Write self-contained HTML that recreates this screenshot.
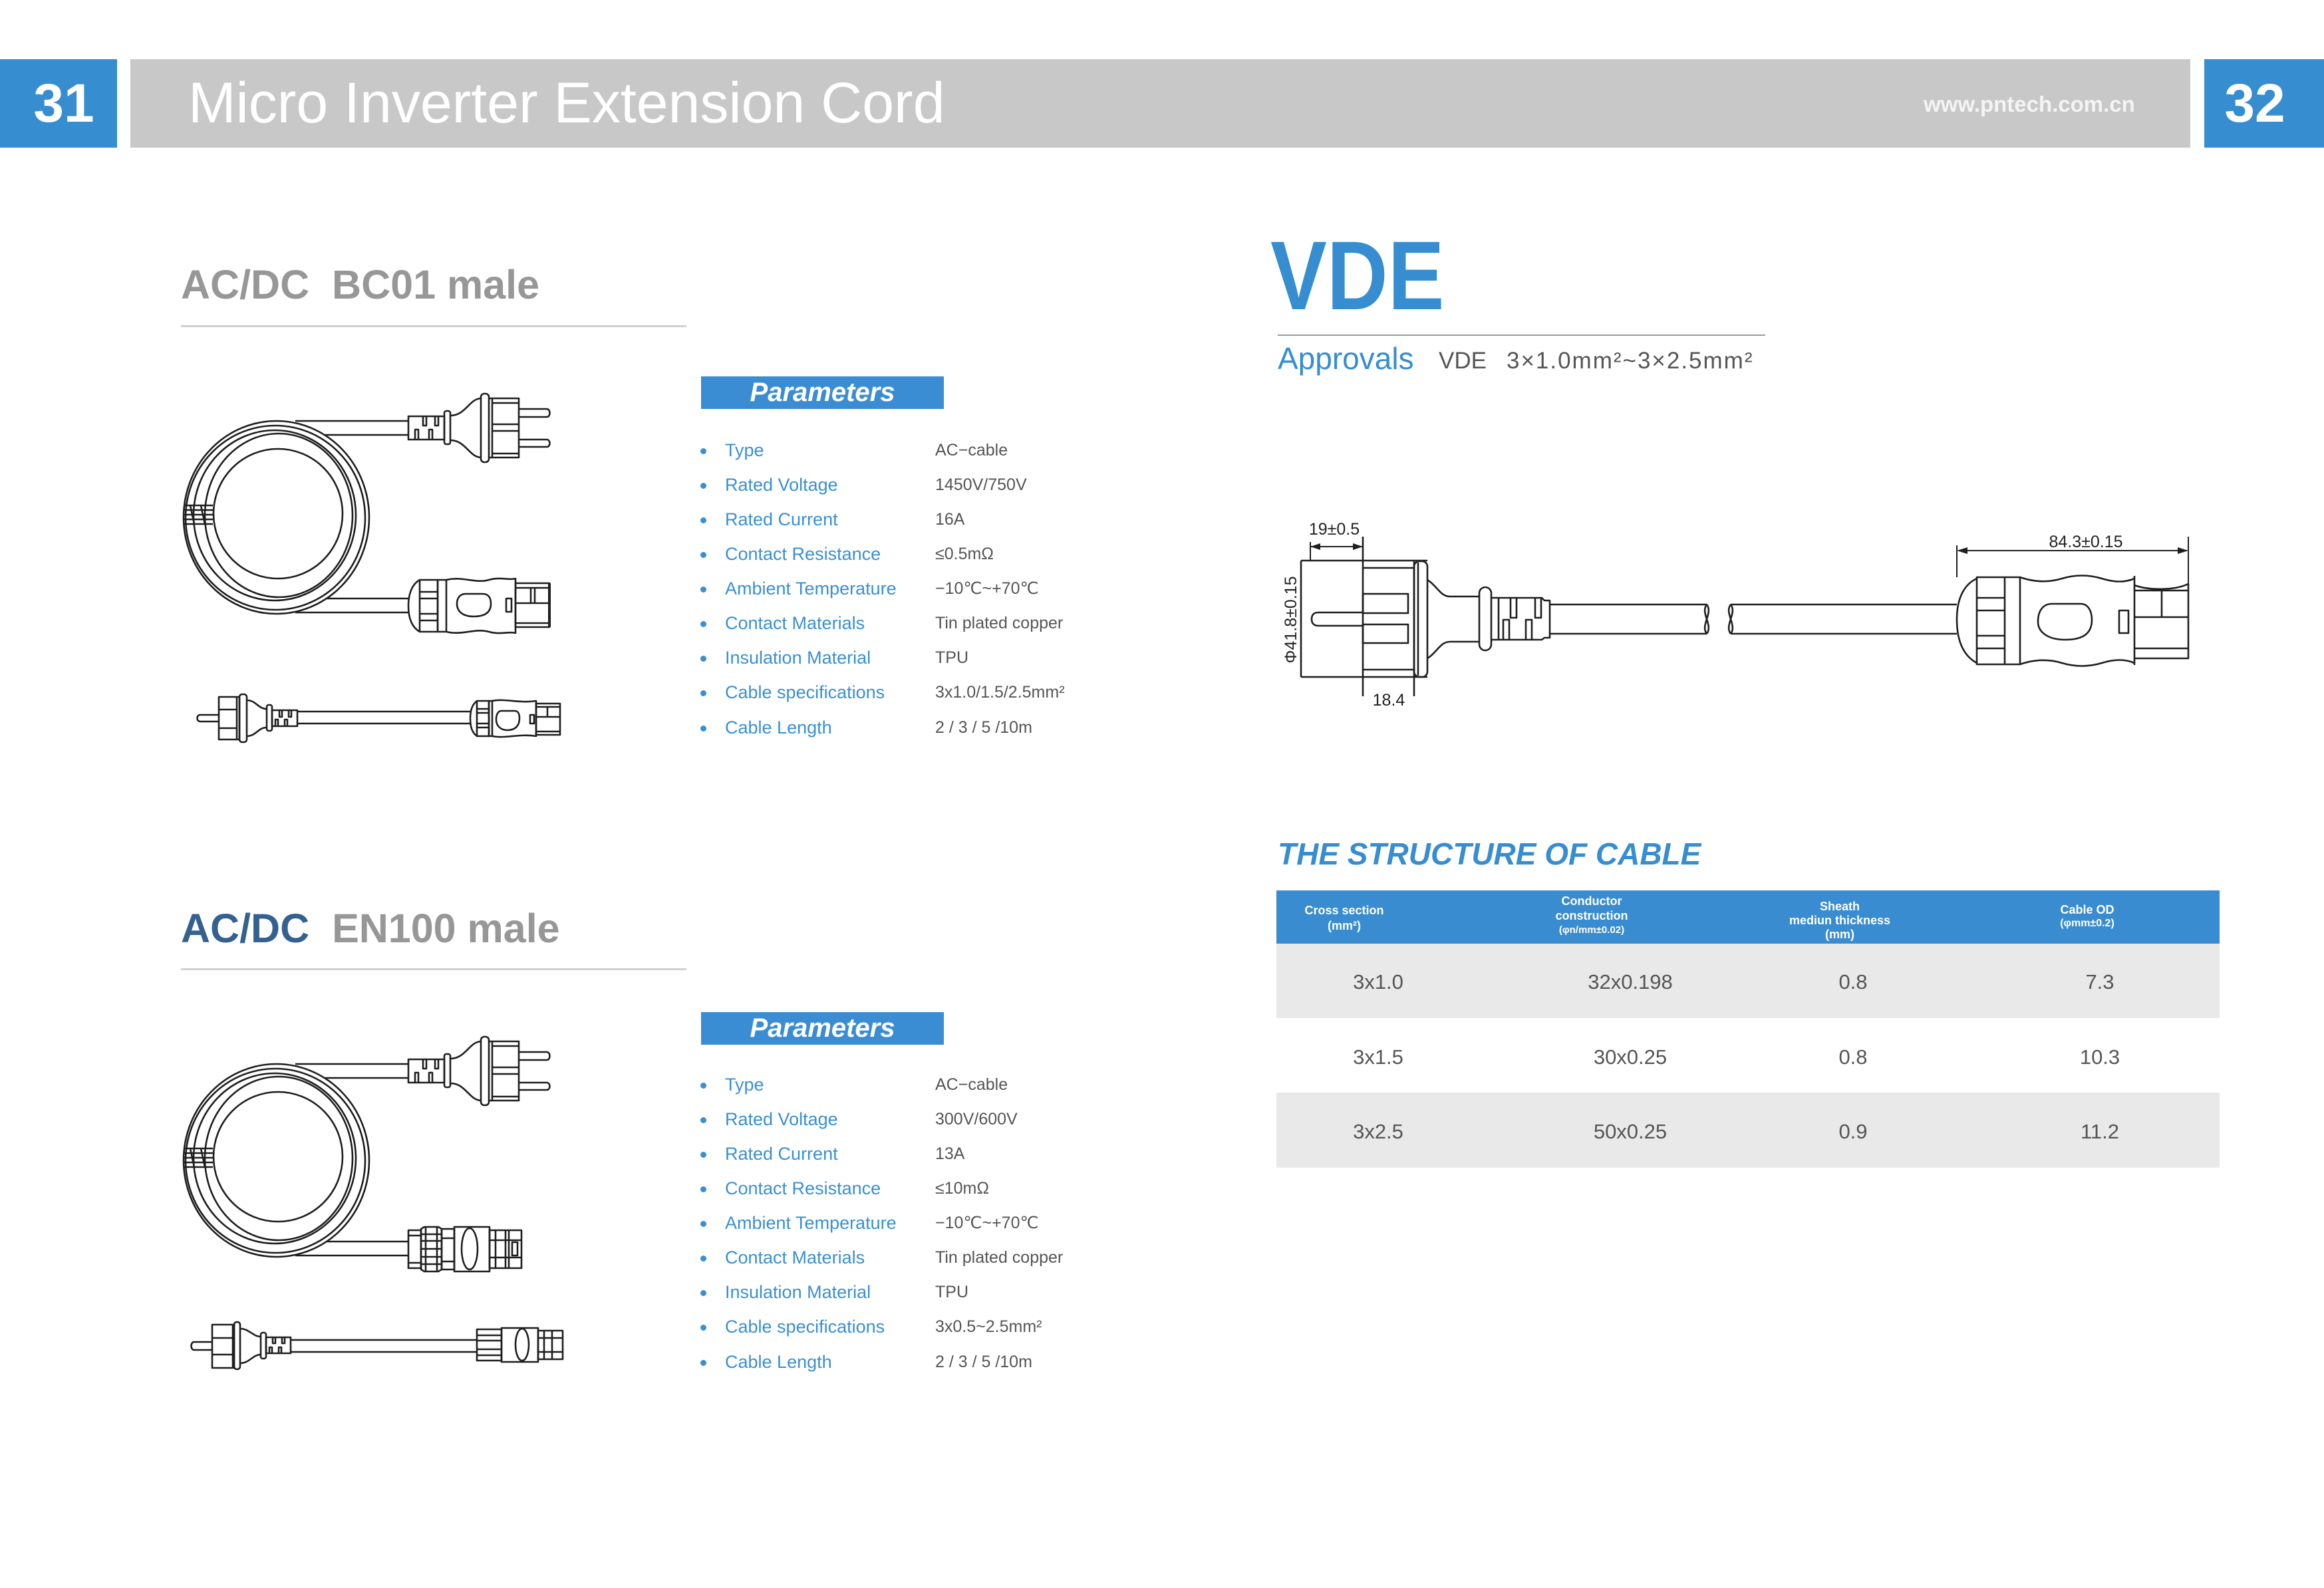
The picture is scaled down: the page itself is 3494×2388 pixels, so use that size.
<!DOCTYPE html>
<html><head><meta charset="utf-8">
<style>
*{margin:0;padding:0;box-sizing:border-box}
html,body{width:3494px;height:2388px;background:#fff;overflow:hidden}
body{position:relative;font-family:"Liberation Sans","DejaVu Sans",Arial,sans-serif}
.a{position:absolute;white-space:pre}
.lab{position:absolute;left:1090px;height:40px;line-height:40px;font-size:27px;color:#3a8fd3;white-space:pre}
.val{position:absolute;left:1406px;height:40px;line-height:40px;font-size:25px;color:#555;white-space:pre}
.dot{position:absolute;left:1053px;width:9px;height:9px;border-radius:50%;background:#3a8fd3}
.th{position:absolute;width:300px;text-align:center;font-size:18px;line-height:22px;height:22px;color:#fff;font-weight:bold;white-space:pre}
.td{position:absolute;width:300px;text-align:center;font-size:31px;line-height:40px;height:40px;color:#555;white-space:pre}
.dl{position:absolute;text-align:center;font-size:25px;line-height:28px;height:28px;color:#222;white-space:pre}
.pbox{position:absolute;left:1054px;width:365px;height:49px;background:#3a8dd2;color:#fff;font-weight:bold;font-style:italic;font-size:40px;line-height:49px;text-align:center}
</style></head><body>

<!-- header -->
<div class="a" style="left:0;top:89px;width:176px;height:133px;background:#368dd0"></div>
<div class="a" style="left:196px;top:89px;width:3097px;height:133px;background:#c8c8c9"></div>
<div class="a" style="left:3314px;top:89px;width:180px;height:133px;background:#368dd0"></div>
<div class="a" style="left:8px;top:89px;width:176px;line-height:133px;text-align:center;color:#fff;font-weight:bold;font-size:82px">31</div>
<div class="a" style="left:3300px;top:89px;width:180px;line-height:133px;text-align:center;color:#fff;font-weight:bold;font-size:82px">32</div>
<div class="a" style="left:283px;top:112px;font-size:86px;line-height:86px;color:#fff">Micro Inverter Extension Cord</div>
<div class="a" style="left:2892px;top:140px;font-size:33px;line-height:33px;color:#f4f4f4;font-weight:bold">www.pntech.com.cn</div>

<!-- section 1 -->
<div class="a" style="left:272px;top:398px;font-size:61px;line-height:61px;font-weight:bold;color:#979797">AC/DC  BC01 male</div>
<div class="a" style="left:272px;top:489px;width:760px;height:3px;background:#d0d0d0"></div>
<div class="pbox" style="top:566px">Parameters</div>

<div class="dot" style="top:674px"></div><div class="lab" style="top:657px">Type</div><div class="val" style="top:657px">AC−cable</div>
<div class="dot" style="top:726px"></div><div class="lab" style="top:709px">Rated Voltage</div><div class="val" style="top:709px">1450V/750V</div>
<div class="dot" style="top:778px"></div><div class="lab" style="top:761px">Rated Current</div><div class="val" style="top:761px">16A</div>
<div class="dot" style="top:830px"></div><div class="lab" style="top:813px">Contact Resistance</div><div class="val" style="top:813px">≤0.5mΩ</div>
<div class="dot" style="top:882px"></div><div class="lab" style="top:865px">Ambient Temperature</div><div class="val" style="top:865px">−10℃~+70℃</div>
<div class="dot" style="top:934px"></div><div class="lab" style="top:917px">Contact Materials</div><div class="val" style="top:917px">Tin plated copper</div>
<div class="dot" style="top:986px"></div><div class="lab" style="top:969px">Insulation Material</div><div class="val" style="top:969px">TPU</div>
<div class="dot" style="top:1038px"></div><div class="lab" style="top:1021px">Cable specifications</div><div class="val" style="top:1021px">3x1.0/1.5/2.5mm²</div>
<div class="dot" style="top:1091px"></div><div class="lab" style="top:1074px">Cable Length</div><div class="val" style="top:1074px">2 / 3 / 5 /10m</div>

<!-- section 2 -->
<div class="a" style="left:272px;top:1366px;font-size:61px;line-height:61px;font-weight:bold;color:#979797"><span style="color:#34618f">AC/DC</span>  EN100 male</div>
<div class="a" style="left:272px;top:1456px;width:760px;height:3px;background:#d0d0d0"></div>
<div class="pbox" style="top:1522px">Parameters</div>

<div class="dot" style="top:1628px"></div><div class="lab" style="top:1611px">Type</div><div class="val" style="top:1611px">AC−cable</div>
<div class="dot" style="top:1680px"></div><div class="lab" style="top:1663px">Rated Voltage</div><div class="val" style="top:1663px">300V/600V</div>
<div class="dot" style="top:1732px"></div><div class="lab" style="top:1715px">Rated Current</div><div class="val" style="top:1715px">13A</div>
<div class="dot" style="top:1784px"></div><div class="lab" style="top:1767px">Contact Resistance</div><div class="val" style="top:1767px">≤10mΩ</div>
<div class="dot" style="top:1836px"></div><div class="lab" style="top:1819px">Ambient Temperature</div><div class="val" style="top:1819px">−10℃~+70℃</div>
<div class="dot" style="top:1888px"></div><div class="lab" style="top:1871px">Contact Materials</div><div class="val" style="top:1871px">Tin plated copper</div>
<div class="dot" style="top:1940px"></div><div class="lab" style="top:1923px">Insulation Material</div><div class="val" style="top:1923px">TPU</div>
<div class="dot" style="top:1992px"></div><div class="lab" style="top:1975px">Cable specifications</div><div class="val" style="top:1975px">3x0.5~2.5mm²</div>
<div class="dot" style="top:2045px"></div><div class="lab" style="top:2028px">Cable Length</div><div class="val" style="top:2028px">2 / 3 / 5 /10m</div>

<!-- VDE -->
<div class="a" style="left:1910px;top:342px;font-size:147px;line-height:147px;font-weight:bold;color:#368dd0;transform:scaleX(0.865);transform-origin:0 0">VDE</div>
<div class="a" style="left:1921px;top:503px;width:733px;height:2px;background:#9a9a9a"></div>
<div class="a" style="left:1921px;top:516px;font-size:46px;line-height:46px;color:#368dd0">Approvals</div>
<div class="a" style="left:2163px;top:525px;font-size:35px;line-height:35px;color:#555">VDE</div>
<div class="a" style="left:2265px;top:525px;font-size:35px;line-height:35px;color:#555;letter-spacing:2px">3×1.0mm²~3×2.5mm²</div>

<!-- drawing labels -->
<div class="dl" style="left:1946px;top:782px;width:120px">19±0.5</div>
<div class="dl" style="left:3066px;top:801px;width:140px">84.3±0.15</div>
<div class="dl" style="left:2048px;top:1039px;width:80px">18.4</div>
<div class="dl" style="left:1871px;top:918px;width:140px;transform:rotate(-90deg)">Φ41.8±0.15</div>

<!-- structure -->
<div class="a" style="left:1921px;top:1261px;font-size:46px;line-height:46px;font-weight:bold;font-style:italic;color:#368dd0">THE STRUCTURE OF CABLE</div>
<div class="a" style="left:1919px;top:1339px;width:1418px;height:80px;background:#3a8cd0"></div>
<div class="a" style="left:1919px;top:1419px;width:1418px;height:112px;background:#e9e9e9"></div>
<div class="a" style="left:1919px;top:1643px;width:1418px;height:113px;background:#e9e9e9"></div>

<div class="th" style="left:1871px;top:1358px">Cross section</div>
<div class="th" style="left:1871px;top:1381px">(mm²)</div>
<div class="th" style="left:2243px;top:1344px">Conductor</div>
<div class="th" style="left:2243px;top:1366px">construction</div>
<div class="th" style="left:2243px;top:1388px;font-size:15px">(φn/mm±0.02)</div>
<div class="th" style="left:2616px;top:1352px">Sheath</div>
<div class="th" style="left:2616px;top:1373px">mediun thickness</div>
<div class="th" style="left:2616px;top:1394px">(mm)</div>
<div class="th" style="left:2988px;top:1357px">Cable OD</div>
<div class="th" style="left:2988px;top:1378px;font-size:16px">(φmm±0.2)</div>

<div class="td" style="left:1922px;top:1457px">3x1.0</div>
<div class="td" style="left:2301px;top:1457px">32x0.198</div>
<div class="td" style="left:2636px;top:1457px">0.8</div>
<div class="td" style="left:3007px;top:1457px">7.3</div>
<div class="td" style="left:1922px;top:1570px">3x1.5</div>
<div class="td" style="left:2301px;top:1570px">30x0.25</div>
<div class="td" style="left:2636px;top:1570px">0.8</div>
<div class="td" style="left:3007px;top:1570px">10.3</div>
<div class="td" style="left:1922px;top:1682px">3x2.5</div>
<div class="td" style="left:2301px;top:1682px">50x0.25</div>
<div class="td" style="left:2636px;top:1682px">0.9</div>
<div class="td" style="left:3007px;top:1682px">11.2</div>

<svg class="a" style="left:0;top:0" width="3494" height="2388" viewBox="0 0 3494 2388" xmlns="http://www.w3.org/2000/svg">
<g fill="none" stroke="#1e1e1e" stroke-width="2.6" stroke-linejoin="round">

<!-- ===== Section 1 coil + plug ===== -->
<g id="coilA">
<ellipse cx="415.5" cy="778" rx="139.5" ry="145"/>
<ellipse cx="414" cy="778.5" rx="135" ry="138.5"/>
<ellipse cx="413" cy="775" rx="122" ry="128"/>
<ellipse cx="419" cy="775" rx="111" ry="123"/>
<ellipse cx="418" cy="772.5" rx="97" ry="97.5"/>
<path d="M444 633 H614 M489 654 H614 M492 900 H614 M444 921 H614"/>
<path d="M277 760 H320 M277 767 H320 M277 774 H320 M277 781 H320 M277 788 H320 M286 760 L292 788 M302 760 L308 788"/>
<!-- top plug -->
<rect x="614" y="626" width="54" height="35"/>
<path d="M636 626 V640 H641 V626 M654 626 V640 H659 V626 M624 661 V646 H629 V661 M645 661 V646 H650 V661"/>
<rect x="668" y="618" width="9" height="50" rx="3"/>
<path d="M677 625 C700 625 705 600 723 599 M677 662 C700 662 705 687 723 688"/>
<rect x="723" y="592" width="12" height="103" rx="5"/>
<path d="M735 599 H780 V688 H735 M740 599 V688 M740 606 H780 M740 682 H780 M740 638 H780 M740 648 H780"/>
<path d="M780 615 H822 C828 615 828 627 822 627 H780 M780 661 H822 C828 661 828 672 822 672 H780"/>
</g>
<!-- bottom connector section 1 -->
<path d="M631 872 C617 880 614 898 614 911 C614 925 617 942 631 950"/>
<rect x="631" y="872" width="27" height="78"/>
<path d="M631 890 H658 M631 900 H658 M631 923 H658 M631 933 H658"/>
<rect x="658" y="872" width="13" height="78"/>
<path d="M671 872 C695 866 715 878 735 872 C752 867 765 873 775 870 M671 950 C695 956 715 944 735 950 C752 955 765 949 775 952 M775 869 V953"/>
<path d="M700 893 H726 C735 893 738 900 738 908 C738 920 730 927 712 927 C694 927 687 918 687 908 C687 899 692 893 700 893 Z"/>
<rect x="761" y="900" width="8" height="20"/>
<rect x="775" y="877" width="51" height="66"/>
<path d="M775 884 H826 M775 907 H826 M775 937 H826 M798 884 V907 M804 884 V907"/>
<path d="M826 877 V943" stroke-width="4"/>
<!-- straight cable section 1 -->
<path d="M329 1075 H301 C295 1075 295 1085 301 1085 H329"/>
<rect x="329" y="1048" width="31" height="64"/>
<path d="M329 1067 H356 M329 1095 H356 M356 1048 V1112"/>
<rect x="360" y="1044" width="11" height="72" rx="4"/>
<path d="M371 1053 C385 1053 388 1066 401 1066 M371 1107 C385 1107 388 1094 401 1094"/>
<rect x="401" y="1060" width="8" height="39" rx="3"/>
<rect x="409" y="1068" width="38" height="24"/>
<path d="M420 1068 V1078 H424 V1068 M434 1068 V1078 H438 V1068 M414 1092 V1082 H418 V1092 M428 1092 V1082 H432 V1092"/>
<path d="M447 1070 H707 M447 1088 H707"/>
<path d="M717 1054 C709 1060 707 1070 707 1080 C707 1092 709 1101 717 1107"/>
<rect x="717" y="1054" width="18" height="53"/>
<path d="M717 1066 H735 M717 1072 H735 M717 1088 H735 M717 1094 H735"/>
<rect x="735" y="1054" width="5" height="53"/>
<path d="M740 1054 C760 1050 780 1058 806 1054 M740 1107 C760 1111 780 1103 806 1107 M806 1053 V1108"/>
<path d="M754 1069 H774 C779 1069 781 1074 781 1080 C781 1092 774 1098 763 1098 C752 1098 746 1091 746 1082 C746 1074 749 1069 754 1069 Z"/>
<rect x="797" y="1075" width="6" height="13"/>
<rect x="806" y="1058" width="36" height="47"/>
<path d="M806 1063 H842 M806 1078 H842 M806 1100 H842 M823 1063 V1078"/>

<!-- ===== Section 2 coil + plug ===== -->
<g transform="translate(0,967)">
<ellipse cx="415.5" cy="778" rx="139.5" ry="145"/>
<ellipse cx="414" cy="778.5" rx="135" ry="138.5"/>
<ellipse cx="413" cy="775" rx="122" ry="128"/>
<ellipse cx="419" cy="775" rx="111" ry="123"/>
<ellipse cx="418" cy="772.5" rx="97" ry="97.5"/>
<path d="M444 633 H614 M489 654 H614 M492 900 H614 M444 921 H614"/>
<path d="M277 760 H320 M277 767 H320 M277 774 H320 M277 781 H320 M277 788 H320 M286 760 L292 788 M302 760 L308 788"/>
<rect x="614" y="626" width="54" height="35"/>
<path d="M636 626 V640 H641 V626 M654 626 V640 H659 V626 M624 661 V646 H629 V661 M645 661 V646 H650 V661"/>
<rect x="668" y="618" width="9" height="50" rx="3"/>
<path d="M677 625 C700 625 705 600 723 599 M677 662 C700 662 705 687 723 688"/>
<rect x="723" y="592" width="12" height="103" rx="5"/>
<path d="M735 599 H780 V688 H735 M740 599 V688 M740 606 H780 M740 682 H780 M740 638 H780 M740 648 H780"/>
<path d="M780 615 H822 C828 615 828 627 822 627 H780 M780 661 H822 C828 661 828 672 822 672 H780"/>
</g>
<!-- bottom connector section 2 -->
<rect x="614" y="1850" width="19" height="57"/>
<path d="M614 1858 H633 M614 1899 H633"/>
<path d="M633 1848 L638 1845 H659 L664 1848 V1909 L659 1912 H638 L633 1909 Z"/>
<path d="M633 1856 H664 M633 1866 H664 M633 1878 H664 M633 1890 H664 M633 1901 H664 M640 1845 V1912 M657 1845 V1912"/>
<rect x="664" y="1848" width="19" height="61"/>
<path d="M664 1862 H683 M664 1897 H683"/>
<rect x="683" y="1845" width="53" height="67"/>
<ellipse cx="706" cy="1878" rx="12" ry="31"/>
<rect x="736" y="1850" width="48" height="57"/>
<path d="M745 1850 V1907 M760 1850 V1907 M765 1850 V1907 M736 1865 H784 M736 1891 H784"/>
<rect x="770" y="1868" width="8" height="20"/>
<!-- straight cable section 2 -->
<path d="M319 2018 H292 C286 2018 286 2030 292 2030 H319"/>
<rect x="319" y="1992" width="33" height="65"/>
<path d="M319 2012 H350 M319 2037 H350 M350 1992 V2057"/>
<rect x="352" y="1988" width="9" height="71" rx="4"/>
<path d="M361 1998 C375 1998 380 2010 392 2010 M361 2050 C375 2050 380 2037 392 2037"/>
<rect x="392" y="2004" width="8" height="39" rx="3"/>
<rect x="400" y="2011" width="37" height="24"/>
<path d="M410 2011 V2020 H414 V2011 M424 2011 V2020 H428 V2011 M405 2035 V2026 H409 V2035 M419 2035 V2026 H423 V2035"/>
<path d="M437 2015 H717 M437 2033 H717"/>
<path d="M717 1999 H754 V2046 H717 Z M717 2008 H754 M717 2016 H754 M717 2029 H754 M717 2038 H754"/>
<rect x="754" y="1997" width="55" height="51"/>
<ellipse cx="785" cy="2022" rx="10" ry="24"/>
<rect x="809" y="2001" width="37" height="43"/>
<path d="M818 2001 V2044 M830 2001 V2044 M809 2012 H846 M809 2033 H846"/>

<!-- ===== VDE technical drawing ===== -->
<path d="M1956 843 V1018 M1956 843 H2146 M1956 1018 H2146"/>
<path d="M2049 807 V1047 M2126 843 V1047"/>
<path d="M2049 854 H2126 M2049 1007 H2126"/>
<rect x="2049" y="893" width="68" height="29"/>
<rect x="2049" y="939" width="68" height="28"/>
<path d="M2049 921 H1982 C1974 921 1972 926 1972 931 C1972 936 1974 941 1982 941 H2049"/>
<rect x="2126" y="844" width="20" height="174" rx="8"/>
<path d="M2132 846 V1016"/>
<path d="M2146 872 C2160 880 2165 897 2180 897 H2224 M2146 990 C2160 982 2165 965 2180 965 H2224"/>
<rect x="2224" y="883" width="18" height="95" rx="9"/>
<path d="M2242 899 H2318 L2322 903 H2330 V959 H2322 L2318 962 H2242"/>
<path d="M2253 899 V962 M2271 899 V929 H2280 V899 M2308 899 V929 H2317 V899 M2260 962 V932 H2269 V962 M2294 962 V932 H2303 V962"/>
<path d="M2330 909 H2566 M2330 953 H2566 M2602 909 H2942 M2602 953 H2942"/>
<path d="M2566 909 C2556 922 2576 940 2566 953 M2566 909 C2576 922 2556 940 2566 953"/>
<path d="M2602 909 C2592 922 2612 940 2602 953 M2602 909 C2612 922 2592 940 2602 953"/>
<path d="M2972 870 C2950 880 2942 905 2942 931 C2942 960 2950 985 2972 997"/>
<rect x="2972" y="868" width="65" height="131"/>
<path d="M2972 899 H3014 M2972 918 H3014 M2972 956 H3014 M2972 975 H3014 M3014 868 V999"/>
<path d="M3037 868 C3060 876 3080 876 3100 870 C3120 864 3140 864 3160 870 C3180 876 3195 876 3209 870 M3037 999 C3060 991 3080 991 3100 997 C3120 1003 3140 1003 3160 997 C3180 991 3195 991 3209 997 M3209 866 V1000"/>
<path d="M3085 908 H3128 C3140 908 3145 920 3145 932 C3145 950 3135 962 3105 962 C3078 962 3064 950 3064 935 C3064 918 3072 908 3085 908 Z"/>
<rect x="3186" y="918" width="14" height="34"/>
<path d="M3209 880 C3230 888 3270 888 3290 878 V990 H3209"/>
<path d="M3209 888 H3290 M3209 928 H3290 M3209 975 H3290 M3250 888 V928"/>
<!-- dimensions -->
<path d="M1970 815 V843 M1970 822 H2049" stroke-width="2"/>
<path d="M2942 820 V868 M3290 807 V878 M2944 828 H3288" stroke-width="2"/>
</g>
<g fill="#1e1e1e" stroke="none">
<polygon points="1970,822 1985,817 1985,827"/>
<polygon points="2049,822 2034,817 2034,827"/>
<polygon points="2942,828 2958,823 2958,833"/>
<polygon points="3290,828 3274,823 3274,833"/>
</g>
</svg>
</body></html>
